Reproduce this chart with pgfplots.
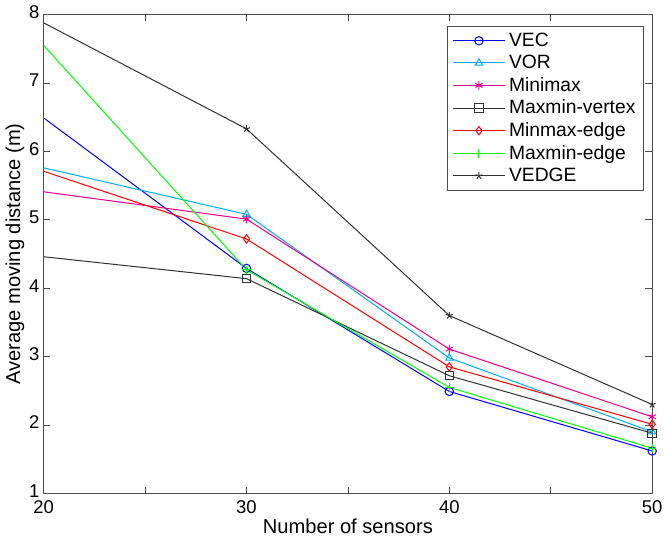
\documentclass[border=0pt]{standalone}
\usepackage{pgfplots}
\pgfplotsset{compat=1.18}
\usepackage{fontspec}
\setmainfont{Liberation Sans}
\begin{document}
\begin{tikzpicture}
\begin{axis}[
  scale only axis,
  width=363pt, height=285.6pt,
  xmin=20, xmax=50, ymin=1, ymax=8,
  xtick={20,25,30,35,40,45,50},
  xticklabels={20,,30,,40,,50},
  ytick={1,2,3,4,5,6,7,8},
  tick align=inside,
  major tick length=4pt,
  tick style={black!70, line width=0.4pt},
  axis line style={black!70, line width=0.5pt},
  /pgf/number format/assume math mode=true,
  ticklabel style={font=\fontsize{11}{13}\selectfont},
  yticklabel style={xshift=1pt, yshift=1.5pt},
  xticklabel style={yshift=-1pt},
  label style={font=\fontsize{12}{14}\selectfont},
  xlabel={Number of sensors},
  ylabel={Average moving distance (m)},
  xlabel style={yshift=4pt},
  ylabel style={yshift=-4pt},
  legend style={at={(rel axis cs:0.987,0.977)}, anchor=north east,
    font=\fontsize{11.5}{13}\selectfont, draw=black!70, line width=0.5pt,
    row sep=-0.3pt, inner xsep=3pt, inner ysep=2pt},
  legend cell align=left,
  legend image code/.code={
    \draw[mark indices={2}] plot coordinates {(0cm,0cm) (0.55cm,0cm) (1.1cm,0cm)};
  },
  every axis plot/.append style={line width=0.6pt, mark size=2.5pt, mark indices={2,3,4}},
]
\addplot[blue, mark=o] coordinates {(20,6.49) (30,4.29) (40,2.49) (50,1.62)};
\addlegendentry{VEC}
\addplot[cyan, mark=triangle] coordinates {(20,5.76) (30,5.08) (40,2.98) (50,1.90)};
\addlegendentry{VOR}
\addplot[magenta, mark=asterisk] coordinates {(20,5.41) (30,5.01) (40,3.11) (50,2.12)};
\addlegendentry{Minimax}
\addplot[black!80, mark=square] coordinates {(20,4.46) (30,4.14) (40,2.72) (50,1.88)};
\addlegendentry{Maxmin-vertex}
\addplot[red, mark=diamond] coordinates {(20,5.71) (30,4.72) (40,2.85) (50,2.01)};
\addlegendentry{Minmax-edge}
\addplot[green, mark=+] coordinates {(20,7.55) (30,4.27) (40,2.55) (50,1.66)};
\addlegendentry{Maxmin-edge}
\addplot[black!80, mark=star, mark size=2.2pt] coordinates {(20,7.88) (30,6.33) (40,3.60) (50,2.30)};
\addlegendentry{VEDGE}
\end{axis}
\end{tikzpicture}
\end{document}
